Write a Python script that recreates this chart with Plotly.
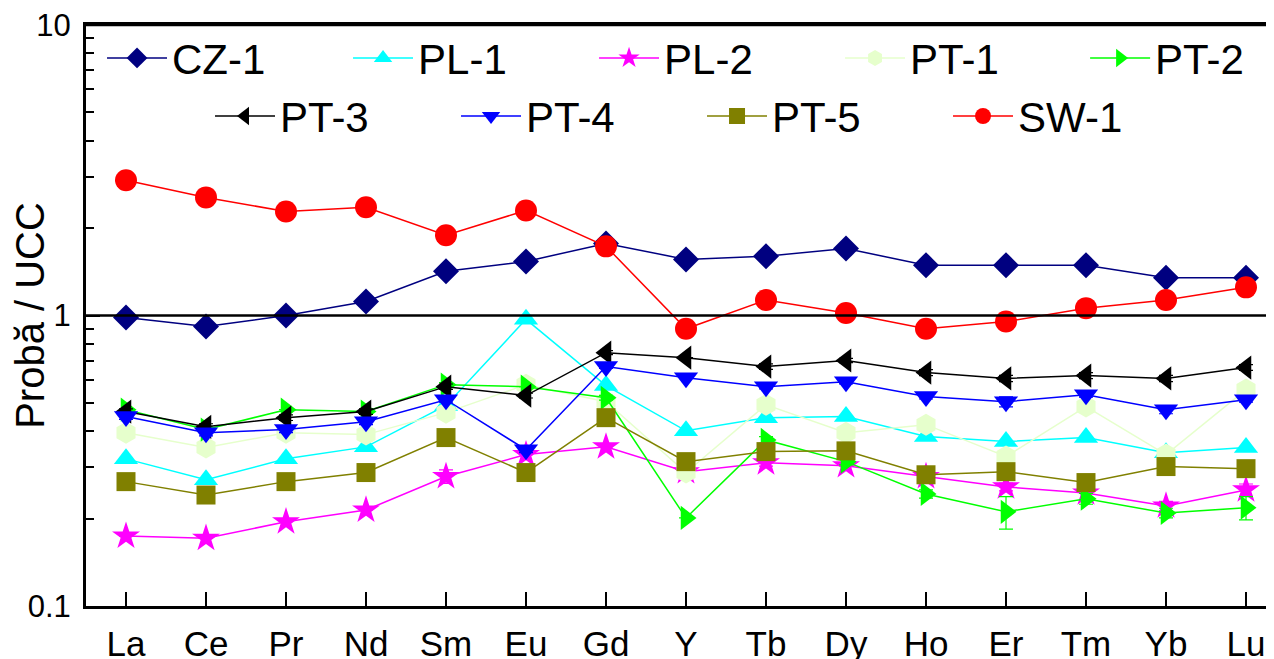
import plotly.graph_objects as go

elements = ["La", "Ce", "Pr", "Nd", "Sm", "Eu", "Gd", "Y", "Tb", "Dy", "Ho", "Er", "Tm", "Yb", "Lu"]

cz1 = [0.985, 0.916, 1.00, 1.117, 1.42, 1.535, 1.77, 1.56, 1.60, 1.70, 1.49, 1.49, 1.49, 1.35, 1.35]
pl1 = [0.321, 0.272, 0.321, 0.353, 0.49, 0.97, 0.574, 0.401, 0.445, 0.449, 0.383, 0.368, 0.38, 0.337, 0.351]
pl2 = [0.174, 0.171, 0.195, 0.214, 0.279, 0.332, 0.353, 0.29, 0.311, 0.304, 0.279, 0.257, 0.245, 0.221, 0.251]
pt1 = [0.395, 0.351, 0.395, 0.389, 0.463, 0.578, 0.505, 0.288, 0.493, 0.395, 0.421, 0.327, 0.486, 0.332, 0.556]
pt2 = [0.474, 0.405, 0.474, 0.467, 0.578, 0.569, 0.521, 0.201, 0.373, 0.314, 0.243, 0.211, 0.234, 0.209, 0.218]
pt3 = [0.467, 0.414, 0.445, 0.467, 0.569, 0.53, 0.745, 0.716, 0.667, 0.70, 0.636, 0.607, 0.621, 0.607, 0.662]
pt4 = [0.449, 0.395, 0.405, 0.431, 0.513, 0.345, 0.667, 0.611, 0.569, 0.592, 0.526, 0.505, 0.534, 0.474, 0.513]
pt5 = [0.268, 0.241, 0.268, 0.288, 0.38, 0.288, 0.445, 0.314, 0.34, 0.342, 0.283, 0.29, 0.266, 0.302, 0.297]
sw1 = [2.92, 2.55, 2.28, 2.36, 1.89, 2.30, 1.73, 0.90, 1.13, 1.02, 0.90, 0.953, 1.06, 1.13, 1.25]

err_pt2 = [0, 0, 0, 0, 0.01, 0, 0.01, 0, 0.01, 0.008, 0.008, 0.027, 0.01, 0.008, 0.02]
err_pl2 = [0, 0, 0, 0, 0.015, 0, 0, 0, 0.008, 0, 0, 0.008, 0.012, 0.008, 0.012]
err_pt3 = [0.01, 0.01, 0.01, 0.01, 0.012, 0.01, 0.012, 0, 0.015, 0.012, 0.015, 0.015, 0.015, 0.015, 0.015]
err_pt4 = [0.01, 0.01, 0.01, 0.01, 0.01, 0.008, 0.01, 0, 0.01, 0.01, 0.01, 0.02, 0.01, 0.015, 0.01]

series = [
    ("CZ-1", cz1, "#000080", "diamond", 20, None, "legend"),
    ("PL-1", pl1, "#00FFFF", "triangle-up", 21, None, "legend"),
    ("PL-2", pl2, "#FF00FF", "star", 21, err_pl2, "legend"),
    ("PT-1", pt1, "#E6FFCC", "hexagon", 22, None, "legend"),
    ("PT-2", pt2, "#00FF00", "triangle-right", 21, err_pt2, "legend3"),
    ("PT-3", pt3, "#000000", "triangle-left", 21, err_pt3, "legend2"),
    ("PT-4", pt4, "#0000FF", "triangle-down", 21, err_pt4, "legend2"),
    ("PT-5", pt5, "#808000", "square", 19, None, "legend2"),
    ("SW-1", sw1, "#FF0000", "circle", 22, None, "legend2"),
]

fig = go.Figure()
for name, vals, color, sym, size, err, leg in series:
    kw = {}
    if err is not None:
        kw["error_y"] = dict(type="data", array=err, visible=True, color=color,
                             thickness=1.2, width=7)
    fig.add_trace(go.Scatter(
        x=elements, y=vals, name=name, mode="lines+markers",
        line=dict(color=color, width=1.5),
        marker=dict(symbol=sym, size=size, color=color, line=dict(width=0)),
        legend=leg, **kw))

fig.add_shape(type="line", xref="paper", x0=0, x1=1, yref="y", y0=1, y1=1,
              line=dict(color="black", width=2.5))
fig.add_shape(type="line", xref="paper", x0=0, x1=1, yref="paper", y0=1, y1=1,
              line=dict(color="black", width=2.5))

font_family = "Liberation Sans, Arial, sans-serif"
leg_common = dict(orientation="h", xanchor="left", yanchor="middle",
                  font=dict(size=42), itemwidth=60, entrywidth=171,
                  bgcolor="rgba(0,0,0,0)")
fig.update_layout(
    width=1266, height=651,
    margin=dict(l=78, r=0, t=17, b=53, autoexpand=False),
    paper_bgcolor="white", plot_bgcolor="white",
    font=dict(family=font_family, color="black"),
    legend=dict(x=0.0135, y=0.943, **leg_common),
    legend3=dict(x=0.841, y=0.943, **leg_common),
    legend2=dict(x=0.1044, y=0.843, **leg_common),
    xaxis=dict(
        type="category", range=[-0.5, 14.35], automargin=False,
        showline=True, linecolor="black", linewidth=2.5, mirror=True,
        ticks="inside", ticklen=14, tickwidth=2, tickcolor="black",
        tickfont=dict(size=35), ticklabelstandoff=5, ticklabeloverflow="allow",
        showgrid=False, zeroline=False,
    ),
    yaxis=dict(
        type="log", range=[-1, 1], automargin=False,
        showline=True, linecolor="black", linewidth=2.5, mirror=False,
        ticks="inside", ticklen=14, tickwidth=2, tickcolor="black",
        tickvals=[0.1, 1, 10], ticktext=["0.1\u2009", "1\u2009", "10\u2009"],
        tickfont=dict(size=31), ticklabeloverflow="allow",
        showgrid=False, zeroline=False,
        minor=dict(ticks="inside", ticklen=8, tickwidth=2, tickcolor="black",
                   tickvals=[0.2, 0.3, 0.4, 0.5, 0.6, 0.7, 0.8, 0.9, 2, 3, 4, 5, 6, 7, 8, 9],
                   showgrid=False),
        title=dict(text="Probă / UCC", font=dict(size=40), standoff=6),
    ),
)

fig.write_html("out.html")
